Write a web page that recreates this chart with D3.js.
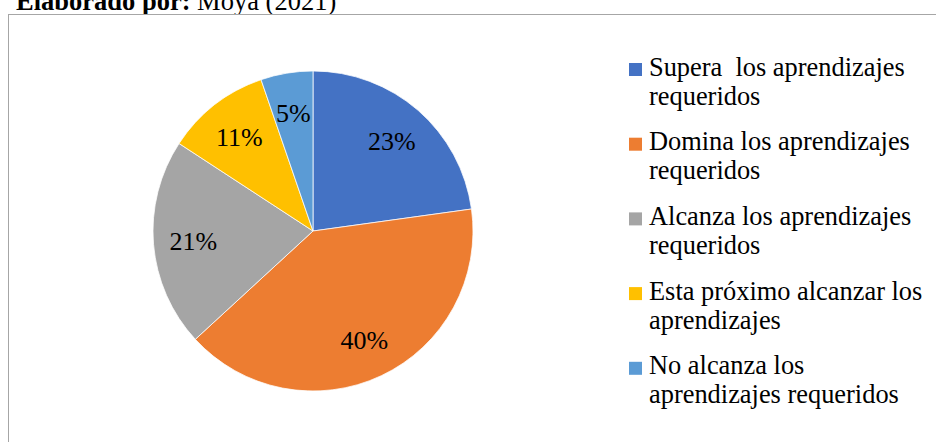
<!DOCTYPE html>
<html>
<head>
<meta charset="utf-8">
<script src="https://cdn.jsdelivr.net/npm/d3@7"></script>
<style>
  html, body { margin: 0; padding: 0; background: #fff; }
  svg { display: block; font-family: "Liberation Serif", "Times New Roman", serif; }
</style>
</head>
<body>
<svg id="chart" width="936" height="442"></svg>
<script>
// ---- data ----
const categories = [
  "Supera  los aprendizajes requeridos",
  "Domina los aprendizajes requeridos",
  "Alcanza los aprendizajes requeridos",
  "Esta próximo alcanzar los aprendizajes",
  "No alcanza los aprendizajes requeridos"
];
const counts = [13, 23, 12, 6, 3];
const percentLabels = ["23%", "40%", "21%", "11%", "5%"];
const colors = ["#4472C4", "#ED7D31", "#A5A5A5", "#FFC000", "#5B9BD5"];
const titleBold = "Elaborado por:";
const titleRest = " Moya (2021)";

// ---- layout ----
const W = 936, H = 442;
const cx = 313, cy = 231, R = 160, labelR = 120;
const svg = d3.select("#chart");

// title (partly cut off at top, as in the source)
const title = svg.append("text").attr("x", 16).attr("y", 9.5)
  .attr("font-size", 26.5).attr("fill", "#000").style("white-space", "pre");
title.append("tspan").attr("font-weight", "bold").text(titleBold);
title.append("tspan").text(titleRest);

// chart border
svg.append("rect").attr("x", 8.5).attr("y", 14.5)
  .attr("width", W).attr("height", H)
  .attr("fill", "#fff").attr("stroke", "#a6a6a6").attr("stroke-width", 1);

// pie
const pie = d3.pie().sort(null).value(d => d);
const arcs = pie(counts);
const arc = d3.arc().innerRadius(0).outerRadius(R);
const labelArc = d3.arc().innerRadius(labelR).outerRadius(labelR);
const g = svg.append("g").attr("transform", `translate(${cx},${cy})`);
g.selectAll("path").data(arcs).join("path")
  .attr("d", arc)
  .attr("fill", (d, i) => colors[i])
  .attr("stroke", "#fff").attr("stroke-width", 0.75);
g.selectAll("text").data(arcs).join("text")
  .attr("transform", d => `translate(${labelArc.centroid(d)})`)
  .attr("text-anchor", "middle")
  .attr("dy", "0.36em")
  .attr("font-size", 26)
  .attr("fill", "#000")
  .text((d, i) => percentLabels[i]);

// legend
const lgX = 629, lgY0 = 75.5, itemGap = 74.7, lineH = 29, sq = 13, maxW = 285;
const legend = svg.append("g");
categories.forEach((name, i) => {
  const y = lgY0 + i * itemGap;
  legend.append("rect").attr("x", lgX).attr("y", y - 12.5)
    .attr("width", sq).attr("height", sq).attr("fill", colors[i]);
  const t = legend.append("text").attr("x", lgX + 20).attr("y", y)
    .attr("font-size", 26.4).attr("fill", "#000").style("white-space", "pre");
  const words = name.split(/(?<= )(?=\S)/);
  let line = "", lineNo = 0;
  let ts = t.append("tspan").attr("x", lgX + 20).attr("y", y);
  words.forEach(w => {
    const trial = line + w;
    ts.text(trial.trimEnd());
    if (ts.node().getComputedTextLength() > maxW && line !== "") {
      ts.text(line.trimEnd());
      lineNo++;
      line = w;
      ts = t.append("tspan").attr("x", lgX + 20).attr("y", y + lineNo * lineH).text(w.trimEnd());
    } else {
      line = trial;
    }
  });
});
</script>
</body>
</html>
